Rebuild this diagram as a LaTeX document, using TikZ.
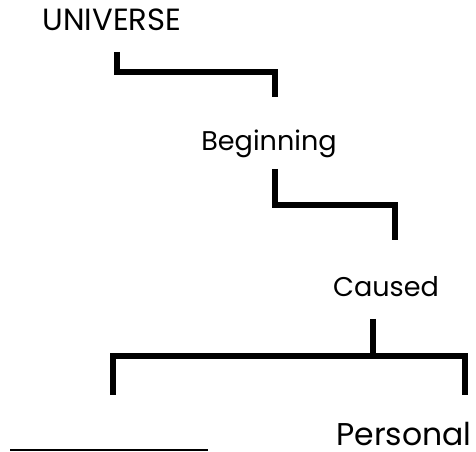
\documentclass[tikz,border=0pt]{standalone}
\usepackage{fontspec}
\setmainfont{Poppins}
\begin{document}
\begin{tikzpicture}[x=0.75pt,y=-0.75pt,
  lbl/.style={inner sep=0pt, anchor=base},
  bracket/.style={line width=4.5pt, line join=miter, line cap=butt, black},
  blank/.style={line width=1.2pt, black}]
\useasboundingbox (0,0) rectangle (476,452);
\node[lbl, font=\fontsize{23}{27}\selectfont] (U) at (112,31) {UNIVERSE};
\node[lbl, font=\fontsize{20.3}{24}\selectfont] (B) at (269,151) {Beginning};
\node[lbl, font=\fontsize{20.3}{24}\selectfont] (C) at (386,297) {Caused};
\node[lbl, font=\fontsize{23.6}{27}\selectfont] (P) at (404,446) {Personal};
\coordinate (b1) at (10,450);
\coordinate (b2) at (208,450);
\draw[bracket] (117,52) |- (275,72) -- (275,97);
\draw[bracket] (275,169) |- (395,205) -- (395,240);
\draw[bracket] (373,319) -- (373,356);
\draw[bracket] (113,395) |- (465,356) -- (465,395);
\draw[blank] (b1) -- (b2);
\end{tikzpicture}
\end{document}
